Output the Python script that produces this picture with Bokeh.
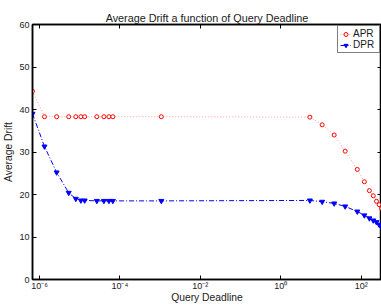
from bokeh.plotting import figure
from bokeh.models import (LogAxis, LinearAxis, FixedTicker, CustomJSTickFormatter,
                          Range1d)
from bokeh.embed import file_html
from bokeh.resources import INLINE

# ---- data ----
deadline = [6.7e-7, 1.33e-6, 2.67e-6, 5.33e-6, 8e-6, 1.07e-5, 1.33e-5, 2.67e-5,
            4e-5, 5.33e-5, 6.67e-5, 1.07e-3, 5.3, 10.7, 21.3, 40, 80, 120, 160,
            200, 240, 280, 320]
apr = [44.3, 38.3, 38.3, 38.3, 38.3, 38.3, 38.3, 38.3, 38.3, 38.3, 38.3, 38.3,
       38.2, 36.4, 34.0, 30.2, 25.9, 23.0, 20.9, 19.7, 18.4, 17.6, 16.7]
dpr = [39.0, 31.3, 25.2, 20.4, 19.0, 18.6, 18.6, 18.5, 18.5, 18.5, 18.5, 18.5,
       18.6, 18.3, 17.9, 17.2, 16.0, 15.1, 14.4, 13.9, 13.5, 12.9, 12.3]
x_ticks = [1e-6, 1e-4, 1e-2, 1, 1e2]
y_ticks = [0, 10, 20, 30, 40, 50, 60]

FONT = "Liberation Sans"
TXT = "#1a1a1a"

p = figure(width=381, height=305, x_axis_type="log",
           x_range=Range1d(min(deadline), max(deadline)), y_range=Range1d(0, 60),
           output_backend="svg", toolbar_location=None,
           min_border_left=31, min_border_right=0, min_border_top=24,
           min_border_bottom=26,
           title="Average Drift a function of Query Deadline")
p.title.align = "center"
p.title.text_font = FONT
p.title.text_font_size = "10.8px"
p.title.text_font_style = "normal"
p.title.text_color = TXT
p.title.standoff = 2

p.xgrid.visible = False
p.ygrid.visible = False
p.outline_line_color = "black"
p.outline_line_width = 1.5

sup_code = """
const sup = {'-':'\u207b','0':'\u2070','1':'\u00b9','2':'\u00b2','3':'\u00b3','4':'\u2074',
             '5':'\u2075','6':'\u2076','7':'\u2077','8':'\u2078','9':'\u2079'};
const e = Math.round(Math.log10(tick));
return '10' + String(e).split('').map(c => sup[c]).join('');
"""

def style_axis(ax, show_labels=True, label_size="9px"):
    ax.major_tick_in = 4
    ax.major_tick_out = 0
    ax.minor_tick_line_color = None
    ax.axis_line_color = "black"
    ax.axis_line_width = 1.5
    ax.major_tick_line_color = "black"
    ax.major_label_text_font = FONT
    ax.major_label_text_color = TXT
    ax.axis_label_text_font = FONT
    ax.axis_label_text_font_style = "normal"
    ax.axis_label_text_color = TXT
    ax.axis_label_text_font_size = "10.3px"
    if show_labels:
        ax.major_label_text_font_size = label_size
        ax.major_label_standoff = 2
        ax.axis_label_standoff = 1
    else:
        ax.major_label_text_font_size = "1px"
        ax.formatter = CustomJSTickFormatter(code="return '';")
        ax.major_label_standoff = 0

xax = p.xaxis[0]
xax.ticker = FixedTicker(ticks=x_ticks, minor_ticks=[])
xax.formatter = CustomJSTickFormatter(code=sup_code)
xax.axis_label = "Query Deadline"
style_axis(xax, label_size="9px")
xax.major_label_standoff = 1
xax.axis_label_standoff = -2

yax = p.yaxis[0]
yax.ticker = FixedTicker(ticks=y_ticks, minor_ticks=[])
yax.axis_label = "Average Drift"
style_axis(yax, label_size="9px")
yax.major_label_standoff = 3
yax.axis_label_standoff = 2

top = LogAxis(ticker=FixedTicker(ticks=x_ticks, minor_ticks=[]))
style_axis(top, False)
top.major_label_standoff = 5
p.add_layout(top, "above")
right = LinearAxis(ticker=FixedTicker(ticks=y_ticks, minor_ticks=[]))
style_axis(right, False)
p.add_layout(right, "right")

# APR: red dotted line, open circles
p.line(deadline, apr, line_color="red", line_width=1, line_alpha=0.4,
       line_dash="1 2", legend_label="APR")
p.scatter(deadline, apr, marker="circle", size=4, line_color="red",
          line_width=1, fill_color="white", legend_label="APR")

# DPR: blue dash-dot line, filled down triangles
p.line(deadline, dpr, line_color="blue", line_width=1, line_dash="5 2 1 2",
       legend_label="DPR")
p.scatter(deadline, dpr, marker="inverted_triangle", size=5, line_color="blue",
          fill_color="blue", legend_label="DPR")

lg = p.legend[0]
lg.location = "top_right"
lg.border_line_color = "black"
lg.border_line_width = 1.5
lg.background_fill_color = "white"
lg.label_text_font = FONT
lg.label_text_font_size = "10px"
lg.label_text_color = TXT
lg.glyph_width = 11
lg.glyph_height = 10
lg.label_height = 10
lg.label_width = 24
lg.label_standoff = 2
lg.spacing = 0
lg.padding = 2
lg.margin = 1

open("out.html", "w").write(file_html(p, INLINE))
